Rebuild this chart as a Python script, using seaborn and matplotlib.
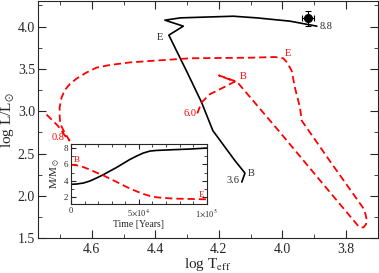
import numpy as np
import pandas as pd
import seaborn as sns
import matplotlib.pyplot as plt
from matplotlib.ticker import MultipleLocator, FixedLocator

## DATA
# accretor track (black) : log Teff, log L
acc_logT = [4.128, 4.118, 4.150, 4.219, 4.2545, 4.302, 4.3175, 4.3575,
            4.312, 4.370, 4.321, 4.155, 4.081, 3.976, 3.892]
acc_logL = [2.164, 2.270, 2.419, 2.771, 3.104, 3.476, 3.593, 3.898,
            4.004, 4.075, 4.102, 4.1215, 4.102, 4.063, 4.004]

# donor track (red dashed)
don_logT = [4.268, 4.2545, 4.228, 4.186, 4.150, 4.200, 4.143, 4.008, 3.882,
            3.764, 3.756, 3.745, 3.737, 3.735, 3.738, 3.745, 3.850, 3.9395,
            3.945, 3.961, 3.971, 3.985, 3.9975, 4.0236, 4.102, 4.291, 4.417,
            4.480, 4.543, 4.585, 4.617, 4.648, 4.669, 4.685, 4.695, 4.701,
            4.701, 4.699, 4.686, 4.670, 4.682, 4.707, 4.744]
don_logL = [2.975, 3.104, 3.202, 3.280, 3.350, 3.423, 3.347, 2.7515, 2.184,
            1.656, 1.629, 1.629, 1.668, 1.715, 1.7735, 1.852, 2.4075, 2.889,
            3.045, 3.280, 3.476, 3.573, 3.625, 3.640, 3.632, 3.625, 3.593,
            3.576, 3.546, 3.515, 3.456, 3.385, 3.320, 3.249, 3.162, 3.045,
            2.948, 2.850, 2.7515, 2.654, 2.701, 2.830, 2.9675]

# observed star
obs_logT, obs_logL = 3.921, 4.095
obs_errT, obs_errL = 0.019, 0.09

# inset: mass vs time
time_yr = [0, 4.2e3, 9.1e3, 1.4e4, 1.89e4, 2.38e4, 2.87e4, 3.37e4, 3.86e4,
           4.35e4, 4.84e4, 5.33e4, 5.82e4, 6.31e4, 7.54e4, 8.77e4, 1e5]
mass_acc = [3.55, 3.59, 3.71, 3.96, 4.33, 4.73, 5.18, 5.63, 6.12, 6.61,
            7.02, 7.39, 7.63, 7.71, 7.80, 7.88, 8.0]
mass_don = [5.96, 5.88, 5.67, 5.35, 4.98, 4.65, 4.24, 3.84, 3.43, 3.02,
            2.69, 2.37, 2.12, 1.96, 1.80, 1.76, 1.71]

df_acc = pd.DataFrame({"logT": acc_logT, "logL": acc_logL})
df_don = pd.DataFrame({"logT": don_logT, "logL": don_logL})

sns.set_style("ticks")
plt.rcParams['font.family'] = ['Liberation Serif', 'DejaVu Serif']
plt.rcParams['mathtext.fontset'] = 'stix'

fig = plt.figure(figsize=(3.79, 2.73), dpi=100)
ax = fig.add_axes([0.0995, 0.127, 0.8975, 0.869])

sns.lineplot(data=df_acc, x="logT", y="logL", sort=False, estimator=None,
             color="black", lw=1.2, ax=ax)
sns.lineplot(data=df_don, x="logT", y="logL", sort=False, estimator=None,
             color="red", lw=1.3, ax=ax)
ax.lines[-1].set_dashes([4, 2.2])
ax.errorbar(obs_logT, obs_logL, xerr=obs_errT, yerr=obs_errL, fmt="o",
            color="black", ms=5.5, capsize=2, elinewidth=0.8, capthick=0.8)

# labels on tracks
ax.text(3.883, 4.004, "8.8", fontsize=7.5, va="center", ha="left")
ax.text(4.386, 3.875, "E", fontsize=7.5, va="center", ha="center")
ax.text(4.097, 2.263, "B", fontsize=7.5, va="center", ha="center")
ax.text(4.155, 2.184, "3.6", fontsize=7.5, va="center", ha="center")
ax.text(3.982, 3.679, "E", fontsize=7.5, va="center", ha="center", color="red")
ax.text(4.123, 3.405, "B", fontsize=7.5, va="center", ha="center", color="red")
ax.text(4.291, 2.9675, "6.0", fontsize=7.5, va="center", ha="center", color="red")
ax.text(4.707, 2.689, "0.8", fontsize=7.5, va="center", ha="center", color="red")

ax.set_xlim(4.77, 3.70)
ax.set_ylim(1.5, 4.3)
ax.xaxis.set_major_locator(FixedLocator([4.6, 4.4, 4.2, 4.0, 3.8]))
ax.xaxis.set_minor_locator(MultipleLocator(0.1))
ax.yaxis.set_major_locator(MultipleLocator(0.5))
ax.yaxis.set_minor_locator(MultipleLocator(0.25))
ax.set_xticklabels(["4.6", "4.4", "4.2", "4.0", "3.8"])
ax.tick_params(which="both", direction="in", top=True, right=True, labelsize=10)
ax.tick_params(axis="y", pad=2)
ax.tick_params(which="major", length=6)
ax.tick_params(which="minor", length=3)
ax.set_xlabel(r"log T$_{\rm eff}$", fontsize=11, labelpad=0)
ax.set_ylabel(r"log L/L$_{\odot}$", fontsize=11, labelpad=1)

## INSET
axin = fig.add_axes([0.1873, 0.2516, 0.358, 0.221])
sns.lineplot(x=time_yr, y=mass_acc, color="black", lw=1.2, ax=axin)
sns.lineplot(x=time_yr, y=mass_don, color="red", lw=1.3, ax=axin)
axin.lines[-1].set_dashes([4, 2.2])
axin.text(0.42e4, 6.5, "B", fontsize=6.5, color="red", ha="center", va="center")
axin.text(9.6e4, 2.3, "E", fontsize=6.5, color="red", ha="center", va="center")
axin.set_xlim(0, 1e5)
axin.set_ylim(1.1, 8.5)
axin.xaxis.set_major_locator(FixedLocator([0, 5e4, 1e5]))
axin.set_xticklabels(["0", r"5$\times$10$^4$", r"1$\times$10$^5$"])
axin.xaxis.set_minor_locator(MultipleLocator(1e4))
axin.yaxis.set_major_locator(MultipleLocator(2))
axin.yaxis.set_minor_locator(MultipleLocator(1))
axin.tick_params(which="both", direction="in", top=True, right=True,
                 labelsize=6.5, pad=2)
axin.tick_params(axis="x", labelsize=6)
axin.tick_params(which="major", length=3.5)
axin.tick_params(which="minor", length=2)
axin.set_xlabel("Time [Years]", fontsize=7, labelpad=1)
axin.set_ylabel(r"M/M$_{\odot}$", fontsize=8, labelpad=1)

fig.savefig("out.png", dpi=100)
